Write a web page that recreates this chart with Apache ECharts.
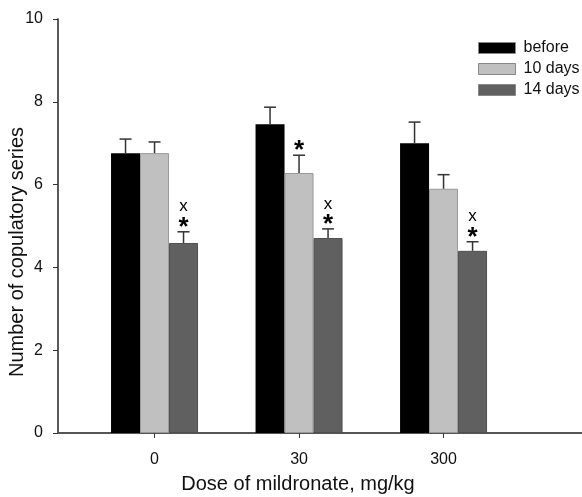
<!DOCTYPE html>
<html>
<head>
<meta charset="utf-8">
<script src="https://cdn.jsdelivr.net/npm/echarts@6/dist/echarts.min.js"></script>
<style>
  html, body { margin: 0; padding: 0; background: #fff; }
  #chart { width: 582px; height: 497px; }
</style>
</head>
<body>
<div id="chart"></div>
<script>
// doses on the x axis
const doses = ['0', '30', '300']
const seriesNames = ['before', '10 days', '14 days']

// mean values
const before = [6.76, 7.46, 7.0]
const days10 = [6.76, 6.28, 5.9]
const days14 = [4.59, 4.71, 4.4]

// upper error (SEM)
const beforeErr = [0.34, 0.41, 0.51]
const days10Err = [0.27, 0.43, 0.34]
const days14Err = [0.27, 0.22, 0.22]

// significance marks drawn above error bars
const days10Marks = ['', '*', '']
const days14Marks = ['x*', 'x*', 'x*']

const yTicks = [0, 2, 4, 6, 8, 10]

const colors = ['#000000', '#c0c0c0', '#606060']
const borders = ['#000000', '#999999', '#505050']
const barW = 29
const offsets = [-barW, 0, barW]

const chart = echarts.init(document.getElementById('chart'))

const means = [before, days10, days14]
const errs = [beforeErr, days10Err, days14Err]
const marks = [['', '', ''], days10Marks, days14Marks]

const errorSeries = (k) => ({
  type: 'custom',
  name: seriesNames[k] + ' err',
  z: 5,
  silent: true,
  data: doses.map((d, i) => [i, means[k][i], errs[k][i]]),
  renderItem: (params, api) => {
    const x0 = api.value(0)
    const m = api.value(1)
    const e = api.value(2)
    const mk = marks[k][params.dataIndex]
    const base = api.coord([x0, m])
    const top = api.coord([x0, m + e])
    const x = base[0] + offsets[k]
    const children = [
      { type: 'line', shape: { x1: x, y1: base[1], x2: x, y2: top[1] }, style: { stroke: '#333', lineWidth: 1.5 } },
      { type: 'line', shape: { x1: x - 6, y1: top[1], x2: x + 6, y2: top[1] }, style: { stroke: '#333', lineWidth: 1.5 } }
    ]
    if (mk.indexOf('*') >= 0) {
      children.push({
        type: 'text',
        style: { x: x, y: top[1] - 4, text: '*', font: 'bold 26px "Liberation Sans", Arial', fill: '#000', align: 'center', verticalAlign: 'middle' }
      })
    }
    if (mk.indexOf('x') >= 0) {
      children.push({
        type: 'text',
        style: { x: x, y: top[1] - 25, text: 'x', font: '17px "Liberation Sans", Arial', fill: '#000', align: 'center', verticalAlign: 'middle' }
      })
    }
    return { type: 'group', children }
  }
})

const barSeries = (k) => ({
  type: 'bar',
  name: seriesNames[k],
  data: doses.map((d, i) => [i, means[k][i]]),
  barWidth: barW,
  barGap: '0%',
  itemStyle: { color: colors[k], borderColor: borders[k], borderWidth: k === 0 ? 0 : 1 }
})

chart.setOption({
  animation: false,
  textStyle: { fontFamily: '"Liberation Sans", Arial, sans-serif' },
  grid: { left: 58, right: 0, top: 19, bottom: 64, containLabel: false, outerBoundsMode: 'none' },
  legend: {
    data: seriesNames,
    orient: 'vertical',
    left: 478,
    top: 40,
    padding: 0,
    itemWidth: 37,
    itemHeight: 11,
    itemGap: 5,
    icon: 'rect',
    itemStyle: { borderColor: '#888', borderWidth: 1 },
    textStyle: { fontSize: 16, color: '#111', padding: [0, 0, 0, 3] }
  },
  xAxis: {
    type: 'value',
    min: -0.668,
    max: 2.958,
    name: 'Dose of mildronate, mg/kg',
    nameLocation: 'middle',
    nameGap: 41,
    nameMoveOverlap: false,
    nameTextStyle: { fontSize: 20, color: '#111', padding: [0, 44, 0, 0] },
    splitLine: { show: false },
    axisLine: { show: true, onZero: false, lineStyle: { color: '#555', width: 2 } },
    axisTick: { show: true, customValues: [0, 1, 2], length: 5, lineStyle: { color: '#333' } },
    axisLabel: {
      customValues: [0, 1, 2],
      formatter: (v) => doses[Math.round(v)],
      fontSize: 16,
      color: '#111',
      margin: 19
    }
  },
  yAxis: {
    type: 'value',
    min: 0,
    max: 10,
    interval: 2,
    name: 'Number of copulatory series',
    nameLocation: 'middle',
    nameGap: 31,
    nameMoveOverlap: false,
    nameTextStyle: { fontSize: 20, color: '#111', padding: [0, 52, 0, 0] },
    splitLine: { show: false },
    axisLine: { show: true, onZero: false, lineStyle: { color: '#222', width: 1.5 } },
    axisTick: { show: true, length: 5, lineStyle: { color: '#333' } },
    axisLabel: { fontSize: 16, color: '#111', margin: 15, formatter: (v) => (yTicks.indexOf(v) >= 0 ? String(v) : '') }
  },
  series: [barSeries(0), barSeries(1), barSeries(2), errorSeries(0), errorSeries(1), errorSeries(2)]
})
</script>
</body>
</html>
